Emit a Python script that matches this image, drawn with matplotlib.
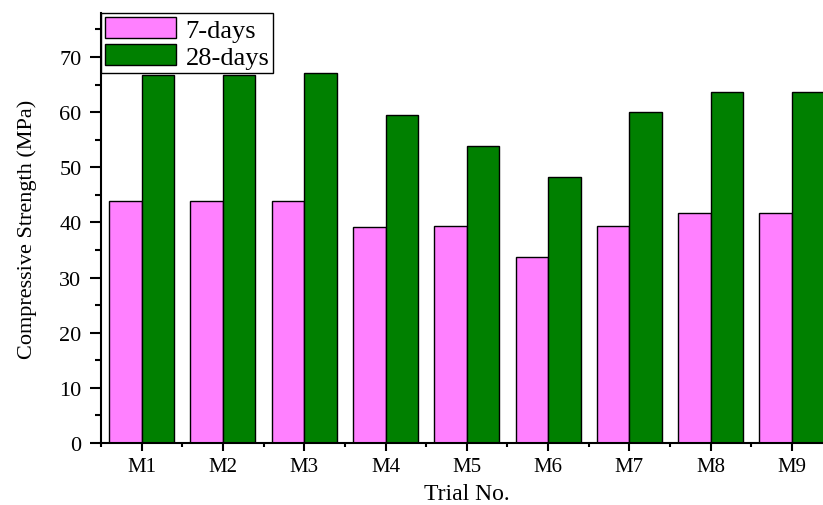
## Grouped bar chart of compressive strength for the trial mixes M1-M9.
import numpy as np
import matplotlib
matplotlib.use("Agg")
import matplotlib.pyplot as plt

trials = ["M1", "M2", "M3", "M4", "M5", "M6", "M7", "M8", "M9"]
days7 = [43.8, 43.9, 43.8, 39.1, 39.4, 33.8, 39.4, 41.8, 41.7]
days28 = [66.7, 66.8, 67.1, 59.5, 53.9, 48.3, 60.1, 63.6, 63.7]

plt.rcParams['font.family'] = ['Liberation Serif', 'DejaVu Serif']

fig = plt.figure(figsize=(8.23, 5.06), dpi=100)
ax = fig.add_axes([0.1227, 0.1225, 0.889, 0.85])

x = np.arange(1, len(trials) + 1)
w = 0.4
ax.bar(x - w / 2, days7, w, color='#FF80FF', edgecolor='black', linewidth=1.0, label='7-days')
ax.bar(x + w / 2, days28, w, color='#008000', edgecolor='black', linewidth=1.0, label='28-days')

ax.set_xlim(0.5, 9.5)
ax.set_ylim(0, 78)
ax.set_xticks(x)
ax.set_xticklabels(trials)
ax.set_xticks(np.append(x - 0.5, 9.5), minor=True)
ax.set_yticks(np.arange(0, 71, 10))
ax.set_yticks(np.arange(5, 76, 10), minor=True)

ax.spines['top'].set_visible(False)
ax.spines['right'].set_visible(False)
ax.spines['left'].set_linewidth(1.5)
ax.spines['bottom'].set_linewidth(1.5)
ax.tick_params(axis='y', which='major', direction='out', length=8, width=1.5, labelsize=16, pad=6)
ax.tick_params(axis='y', which='minor', direction='out', length=4, width=1.5)
ax.tick_params(axis='x', which='major', direction='out', length=6, width=1.5, labelsize=15, pad=4)
ax.tick_params(axis='x', which='minor', direction='out', length=3, width=1.5)

ax.set_xlabel('Trial No.', fontsize=17, labelpad=5)
ax.set_ylabel('Compressive Strength (MPa)', fontsize=16, labelpad=16)

leg = ax.legend(loc='upper left', bbox_to_anchor=(0.0, 1.0), borderaxespad=0, fontsize=19,
                handlelength=2.7, handleheight=0.85, labelspacing=0.1, borderpad=0.15,
                handletextpad=0.35, fancybox=False, framealpha=1, edgecolor='black')
leg.get_frame().set_linewidth(1.0)

fig.savefig('out.png', dpi=100)
